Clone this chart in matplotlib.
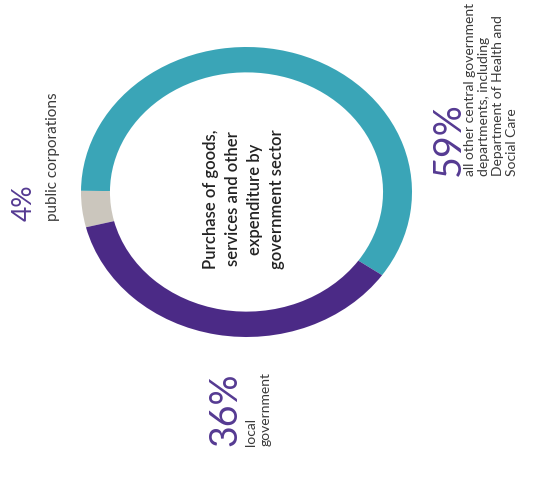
import matplotlib
matplotlib.use("Agg")
import matplotlib.pyplot as plt

# Share of purchases of goods, services and other expenditure by sector (%)
sectors = ["all other central government", "public corporations", "local government"]
shares = [59, 4, 36]
colors = ["#3aa5b7", "#cbc6bd", "#4b2a86"]

pct_labels = ["59%", "4%", "36%"]
desc_labels = [
    "all other central government\ndepartments, including\nDepartment of Health and\nSocial Care",
    "public corporations",
    "local\ngovernment",
]
centre_title = "Purchase of goods,\nservices and other\nexpenditure by\ngovernment sector"

W, H = 557, 483
fig = plt.figure(figsize=(W / 100, H / 100), dpi=100)
fig.patch.set_facecolor("white")

# ring sits in its own axes so it can be stretched slightly wider than tall
left, top, right, bottom = 81, 47, 412, 337
pie_ax = fig.add_axes([left / W, 1 - bottom / H, (right - left) / W, (bottom - top) / H])
pie_ax.pie(
    shares,
    colors=colors,
    startangle=-35,
    counterclock=True,
    radius=1.0,
    wedgeprops=dict(width=0.175, linewidth=0),
)
pie_ax.set_aspect("auto")
pie_ax.set_xlim(-1, 1)
pie_ax.set_ylim(-1, 1)
pie_ax.axis("off")

# overlay in pixel coordinates for the rotated labels
ax = fig.add_axes([0, 0, 1, 1])
ax.set_xlim(0, W)
ax.set_ylim(H, 0)
ax.axis("off")

font = "Lato"
num_color = "#553a92"
txt_color = "#3a3a3a"

ax.text(244, 199, centre_title, rotation=90, ha="center", va="center",
        multialignment="center", fontsize=12, fontweight="semibold",
        family=font, color="#222222", linespacing=1.45)

# 59% label block
ax.text(431, 176, pct_labels[0], rotation=90, rotation_mode="anchor",
        ha="left", va="top", fontsize=27, fontweight="normal",
        family=font, color=num_color)
ax.text(464, 176, desc_labels[0], rotation=90, rotation_mode="anchor",
        ha="left", va="top", fontsize=10, family=font, color=txt_color,
        linespacing=1.2, multialignment="left")

# 4% label block
ax.text(12, 221, pct_labels[1], rotation=90, rotation_mode="anchor",
        ha="left", va="top", fontsize=19, fontweight="normal",
        family=font, color=num_color)
ax.text(46, 221, desc_labels[1], rotation=90, rotation_mode="anchor",
        ha="left", va="top", fontsize=11, family=font, color=txt_color)

# 36% label block
ax.text(207, 446, pct_labels[2], rotation=90, rotation_mode="anchor",
        ha="left", va="top", fontsize=27, fontweight="normal",
        family=font, color=num_color)
ax.text(245, 446, desc_labels[2], rotation=90, rotation_mode="anchor",
        ha="left", va="top", fontsize=10, family=font, color=txt_color,
        linespacing=1.3, multialignment="left")

fig.savefig("out.png", dpi=100, facecolor="white")
